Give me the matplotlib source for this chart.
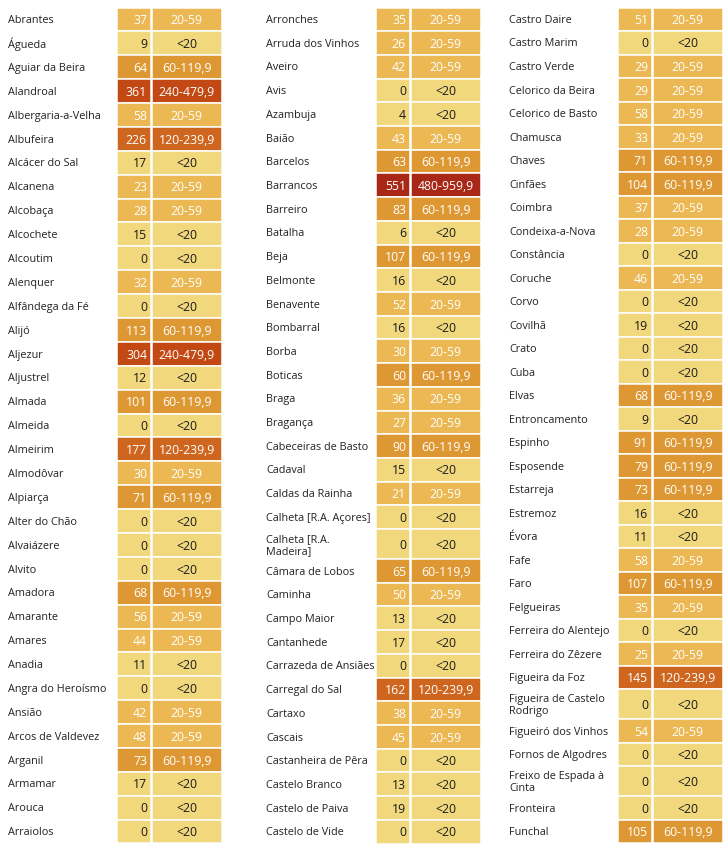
import matplotlib.pyplot as plt
from matplotlib.patches import Rectangle

plt.rcParams['font.family'] = ['Open Sans', 'DejaVu Sans']

# --- data ---
names_1 = ["Abrantes", "Águeda", "Aguiar da Beira", "Alandroal", "Albergaria-a-Velha",
           "Albufeira", "Alcácer do Sal", "Alcanena", "Alcobaça", "Alcochete", "Alcoutim",
           "Alenquer", "Alfândega da Fé", "Alijó", "Aljezur", "Aljustrel", "Almada",
           "Almeida", "Almeirim", "Almodôvar", "Alpiarça", "Alter do Chão", "Alvaiázere",
           "Alvito", "Amadora", "Amarante", "Amares", "Anadia", "Angra do Heroísmo",
           "Ansião", "Arcos de Valdevez", "Arganil", "Armamar", "Arouca", "Arraiolos"]
values_1 = [37, 9, 64, 361, 58, 226, 17, 23, 28, 15, 0, 32, 0, 113, 304, 12, 101, 0, 177,
            30, 71, 0, 0, 0, 68, 56, 44, 11, 0, 42, 48, 73, 17, 0, 0]

names_2 = ["Arronches", "Arruda dos Vinhos", "Aveiro", "Avis", "Azambuja", "Baião",
           "Barcelos", "Barrancos", "Barreiro", "Batalha", "Beja", "Belmonte", "Benavente",
           "Bombarral", "Borba", "Boticas", "Braga", "Bragança", "Cabeceiras de Basto",
           "Cadaval", "Caldas da Rainha", "Calheta [R.A. Açores]", "Calheta [R.A.\nMadeira]",
           "Câmara de Lobos", "Caminha", "Campo Maior", "Cantanhede", "Carrazeda de Ansiães",
           "Carregal do Sal", "Cartaxo", "Cascais", "Castanheira de Pêra", "Castelo Branco",
           "Castelo de Paiva", "Castelo de Vide"]
values_2 = [35, 26, 42, 0, 4, 43, 63, 551, 83, 6, 107, 16, 52, 16, 30, 60, 36, 27, 90, 15,
            21, 0, 0, 65, 50, 13, 17, 0, 162, 38, 45, 0, 13, 19, 0]

names_3 = ["Castro Daire", "Castro Marim", "Castro Verde", "Celorico da Beira",
           "Celorico de Basto", "Chamusca", "Chaves", "Cinfães", "Coimbra", "Condeixa-a-Nova",
           "Constância", "Coruche", "Corvo", "Covilhã", "Crato", "Cuba", "Elvas",
           "Entroncamento", "Espinho", "Esposende", "Estarreja", "Estremoz", "Évora", "Fafe",
           "Faro", "Felgueiras", "Ferreira do Alentejo", "Ferreira do Zêzere",
           "Figueira da Foz", "Figueira de Castelo\nRodrigo", "Figueiró dos Vinhos",
           "Fornos de Algodres", "Freixo de Espada à\nCinta", "Fronteira", "Funchal"]
values_3 = [51, 0, 29, 29, 58, 33, 71, 104, 37, 28, 0, 46, 0, 19, 0, 0, 68, 9, 91, 79, 73,
            16, 11, 58, 107, 35, 0, 25, 145, 0, 54, 0, 0, 0, 105]

bin_edges = [0, 20, 60, 120, 240, 480, 960]
bin_labels = ["<20", "20-59", "60-119,9", "120-239,9", "240-479,9", "480-959,9"]
bin_colors = ["#f2d87c", "#ebb853", "#de9833", "#cf661f", "#c34914", "#a82717"]


def bin_index(v):
    for i in range(len(bin_labels)):
        if bin_edges[i] <= v < bin_edges[i + 1]:
            return i
    return len(bin_labels) - 1


W, H = 727, 849
fig = plt.figure(figsize=(W / 100, H / 100), dpi=100)
ax = fig.add_axes([0, 0, 1, 1])
ax.set_xlim(0, W)
ax.set_ylim(H, 0)
ax.axis('off')

top, bottom = 7.5, 843.5
tall = 30

# column layout: name x, value cell x0/x1, category cell x0/x1
columns = [
    (names_1, values_1, 8, 117, 150.5, 151.5, 222),
    (names_2, values_2, 266, 376, 409.5, 410.5, 481),
    (names_3, values_3, 509, 617.5, 651.5, 652.5, 723),
]

fs_name = 7.85
fs_cell = 8.8
for names, values, nx, vx0, vx1, cx0, cx1 in columns:
    n2 = sum('\n' in n for n in names)
    h = (bottom - top - n2 * tall) / (len(names) - n2)
    y = top
    for name, v in zip(names, values):
        rh = tall if '\n' in name else h
        k = bin_index(v)
        col = bin_colors[k]
        for x0, x1 in [(vx0, vx1), (cx0, cx1)]:
            ax.add_patch(Rectangle((x0, y), x1 - x0, rh, facecolor=col,
                                   edgecolor='white', linewidth=1.1))
        tc = '#1a1a1a' if k == 0 else 'white'
        yc = y + rh / 2 + 1.2
        ax.text(nx, yc, name, ha='left', va='center', fontsize=fs_name, color='#222222',
                linespacing=1.15)
        ax.text(vx1 - 3.5, yc, str(v), ha='right', va='center', fontsize=fs_cell, color=tc)
        ax.text((cx0 + cx1) / 2, yc, bin_labels[k], ha='center', va='center',
                fontsize=fs_cell, color=tc)
        y += rh

fig.savefig('out.png', dpi=100, facecolor='white')
